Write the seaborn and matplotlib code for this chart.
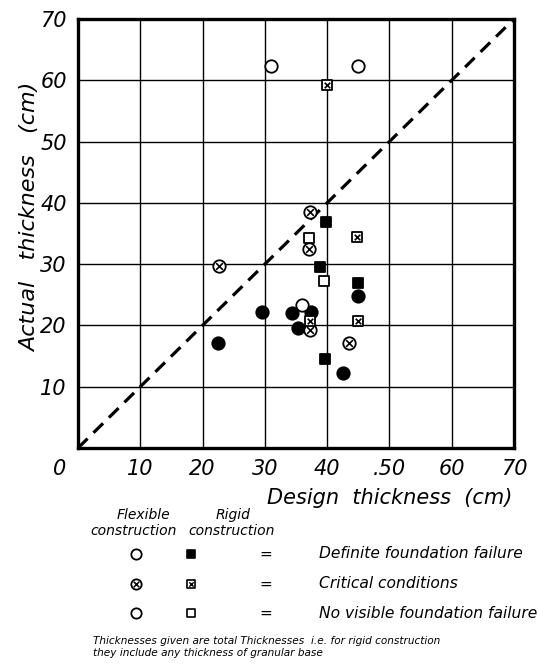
import matplotlib
matplotlib.use("Agg")
import matplotlib.pyplot as plt
import seaborn as sns
import pandas as pd
from matplotlib.transforms import ScaledTranslation

# ---- data (design thickness, actual thickness in cm) ----
flex_fail_x = [22.4, 29.5, 34.4, 37.4, 35.3, 44.9, 42.6]
flex_fail_y = [17.2, 22.2, 22.0, 22.2, 19.5, 24.8, 12.3]
flex_crit_x = [22.6, 37.2, 37.1, 37.3, 43.5]
flex_crit_y = [29.7, 38.5, 32.4, 19.2, 17.2]
flex_ok_x = [31.0, 45.0, 36.0]
flex_ok_y = [62.4, 62.4, 23.4]
rigid_fail_x = [39.8, 38.9, 44.9, 39.6]
rigid_fail_y = [36.9, 29.6, 27.0, 14.5]
rigid_crit_x = [39.9, 44.8, 44.9, 37.2]
rigid_crit_y = [59.3, 34.5, 20.8, 20.8]
rigid_ok_x = [37.1, 39.5]
rigid_ok_y = [34.2, 27.2]

x_ticks = [0, 10, 20, 30, 40, 50, 60, 70]
x_tick_labels = ["0", "10", "20", "30", "40", ".50", "60", "70"]
y_ticks = [10, 20, 30, 40, 50, 60, 70]
y_tick_labels = ["10", "20", "30", "40", "50", "60", "70"]
equality_line = [0, 70]

legend_labels = ["Definite foundation failure", "Critical conditions",
                 "No visible foundation failure"]

sns.set_theme(style="white")
plt.rcParams["font.family"] = ["DejaVu Sans"]
plt.rcParams["font.style"] = "italic"
for k in ["text.color", "axes.labelcolor", "xtick.color", "ytick.color"]:
    plt.rcParams[k] = "black"

W, H = 538, 667
fig = plt.figure(figsize=(W / 100, H / 100), dpi=100)
L, R, T, B = 78, 514, 19, 448
ax = fig.add_axes([L / W, 1 - B / H, (R - L) / W, (B - T) / H])

def frame(xs, ys, name):
    return pd.DataFrame({"design": xs, "actual": ys, "group": name})

df = pd.concat([
    frame(flex_fail_x, flex_fail_y, "flex_fail"),
    frame(flex_crit_x, flex_crit_y, "flex_crit"),
    frame(flex_ok_x, flex_ok_y, "flex_ok"),
    frame(rigid_fail_x, rigid_fail_y, "rigid_fail"),
    frame(rigid_crit_x, rigid_crit_y, "rigid_crit"),
    frame(rigid_ok_x, rigid_ok_y, "rigid_ok"),
], ignore_index=True)

diag = pd.DataFrame({"x": equality_line, "y": equality_line})
sns.lineplot(data=diag, x="x", y="y", ax=ax, color="black", lw=2.3,
             dashes=False, zorder=2).lines[0].set_dashes([4.2, 2.6])

circ = dict(s=80, edgecolor="black", linewidth=1.3, zorder=4)
sq = dict(s=50, edgecolor="black", linewidth=1.3, zorder=4)
sub = lambda g: df[df["group"] == g]
sns.scatterplot(data=sub("flex_fail"), x="design", y="actual", marker="o",
                color="black", ax=ax, **circ)
sns.scatterplot(data=sub("flex_crit"), x="design", y="actual", marker="o",
                color="white", ax=ax, **circ)
sns.scatterplot(data=sub("flex_crit"), x="design", y="actual", marker="x",
                color="black", s=24, linewidth=1.2, ax=ax, zorder=5)
sns.scatterplot(data=sub("flex_ok"), x="design", y="actual", marker="o",
                color="white", ax=ax, **circ)
sns.scatterplot(data=sub("rigid_fail"), x="design", y="actual", marker="s",
                color="black", ax=ax, **sq)
sns.scatterplot(data=sub("rigid_crit"), x="design", y="actual", marker="s",
                color="white", ax=ax, **sq)
sns.scatterplot(data=sub("rigid_crit"), x="design", y="actual", marker="x",
                color="black", s=16, linewidth=1.2, ax=ax, zorder=5)
sns.scatterplot(data=sub("rigid_ok"), x="design", y="actual", marker="s",
                color="white", ax=ax, **sq)

ax.set_xlim(0, 70)
ax.set_ylim(0, 70)
ax.set_xticks(x_ticks)
ax.set_xticklabels(x_tick_labels, fontsize=15)
ax.set_yticks(y_ticks)
ax.set_yticklabels(y_tick_labels, fontsize=15)
ax.tick_params(length=0, pad=8)
ax.grid(True, color="black", lw=1.0)
for s in ax.spines.values():
    s.set_color("black")
    s.set_linewidth(2.4)
# shift the origin "0" label to the left like the drawing
lbl0 = ax.get_xticklabels()[0]
lbl0.set_transform(lbl0.get_transform() + ScaledTranslation(-0.18, 0, fig.dpi_scale_trans))

ax.set_xlabel("Design  thickness  (cm)", fontsize=15)
ax.xaxis.set_label_coords((390 - L) / (R - L), (B - 498) / (B - T))
ax.xaxis.label.set_va("center")
ax.set_ylabel("Actual   thickness   (cm)", fontsize=16)
ax.yaxis.set_label_coords((30 - L) / (R - L), (B - 217) / (B - T))
ax.yaxis.label.set_va("center")

# ---- key below the chart ----
lax = fig.add_axes([0, 0, 1, 1], zorder=-1)
lax.set_xlim(0, W)
lax.set_ylim(H, 0)
lax.axis("off")
lax.text(143, 515, "Flexible", ha="center", va="center", fontsize=10)
lax.text(134, 531, "construction", ha="center", va="center", fontsize=10)
lax.text(233, 515, "Rigid", ha="center", va="center", fontsize=10)
lax.text(232, 531, "construction", ha="center", va="center", fontsize=10)
rows = [554, 584, 613]
for i, (yy, lab) in enumerate(zip(rows, legend_labels)):
    lax.scatter([136], [yy], marker="o", s=55, facecolor="white", edgecolor="black", lw=1.3)
    sface = "black" if i == 0 else "white"
    lax.scatter([191], [yy], marker="s", s=36, facecolor=sface, edgecolor="black", lw=1.2)
    if i == 1:
        lax.scatter([136], [yy], marker="x", s=16, color="black", lw=1.1)
        lax.scatter([191], [yy], marker="x", s=10, color="black", lw=1.0)
    lax.text(266, yy, "=", ha="center", va="center", fontsize=11)
    lax.text(319, yy, lab, ha="left", va="center", fontsize=11.2)
lax.text(93, 641, "Thicknesses given are total Thicknesses  i.e. for rigid construction",
         ha="left", va="center", fontsize=7.6)
lax.text(93, 653, "they include any thickness of granular base",
         ha="left", va="center", fontsize=7.6)

fig.savefig("out.png", dpi=100)
